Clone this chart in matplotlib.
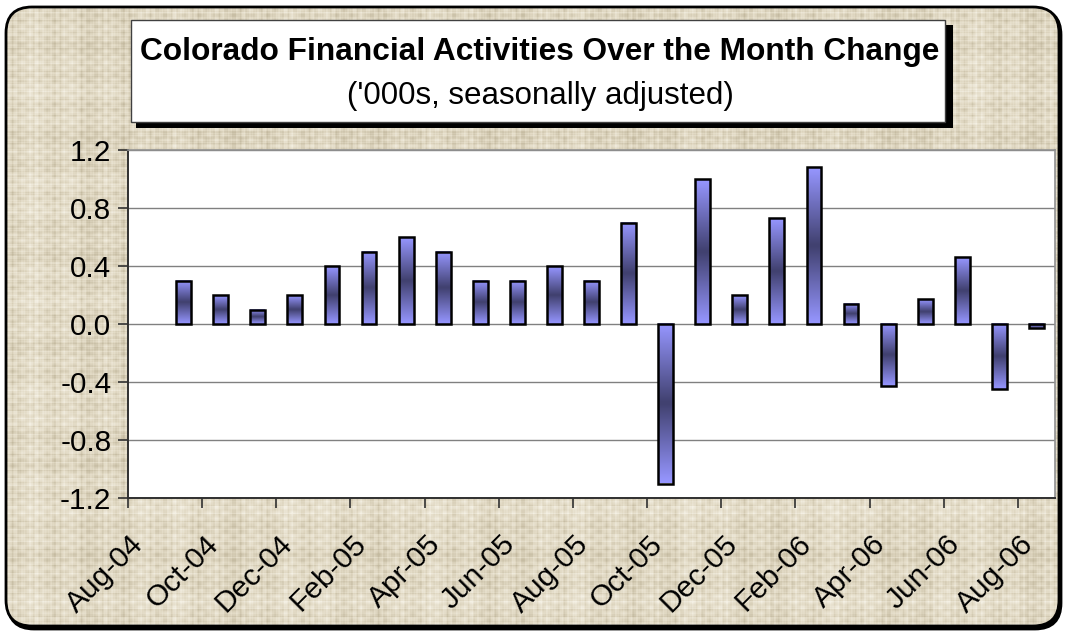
import numpy as np
import matplotlib
matplotlib.use("Agg")
import matplotlib.pyplot as plt
import matplotlib.transforms as mtrans
from matplotlib.patches import FancyBboxPatch, Rectangle

# data: monthly over-the-month change, thousands (Aug-04 has no value)
months = ["Aug-04", "Sep-04", "Oct-04", "Nov-04", "Dec-04", "Jan-05", "Feb-05",
          "Mar-05", "Apr-05", "May-05", "Jun-05", "Jul-05", "Aug-05", "Sep-05",
          "Oct-05", "Nov-05", "Dec-05", "Jan-06", "Feb-06", "Mar-06", "Apr-06",
          "May-06", "Jun-06", "Jul-06", "Aug-06"]
change = [np.nan, 0.3, 0.2, 0.1, 0.2, 0.4, 0.5, 0.6, 0.5, 0.3, 0.3, 0.4, 0.3,
          0.7, -1.1, 1.0, 0.2, 0.73, 1.08, 0.14, -0.43, 0.17, 0.46, -0.45, -0.03]
y_ticks = [-1.2, -0.8, -0.4, 0.0, 0.4, 0.8, 1.2]
y_labels = ["-1.2", "-0.8", "-0.4", "0.0", "0.4", "0.8", "1.2"]

title = "Colorado Financial Activities Over the Month Change"
subtitle = "('000s, seasonally adjusted)"

W, H = 1065, 633
plt.rcParams['font.family'] = ['Liberation Sans', 'DejaVu Sans']

fig = plt.figure(figsize=(W / 100, H / 100), dpi=100)
fig.patch.set_facecolor('white')

# background axes in pixel coordinates
bg = fig.add_axes([0, 0, 1, 1])
bg.set_xlim(0, W)
bg.set_ylim(H, 0)
bg.axis('off')

# linen-like texture (deterministic plaid of sines)
yy = np.arange(H)
xx = np.arange(W)
col = (np.sin(xx * 0.91) + 0.6 * np.sin(xx * 2.37 + 1.0) + 0.7 * np.sin(xx * 0.173 + 2.0)
       + 0.4 * np.sin(xx * 5.1) + 0.5 * np.sin(xx * 0.047))
row = (np.sin(yy * 1.13 + 0.5) + 0.6 * np.sin(yy * 2.71) + 0.7 * np.sin(yy * 0.21 + 1.3)
       + 0.4 * np.sin(yy * 4.3 + 0.7) + 0.5 * np.sin(yy * 0.061 + 2.2))
tex = 0.5 * col[None, :] / 2.5 + 0.5 * row[:, None] / 2.5 \
    + 0.25 * np.sin(xx[None, :] * 0.37) * np.sin(yy[:, None] * 0.53)
tex = np.clip(tex, -1, 1)
base = np.array([226, 218, 197]) / 255.0
light = np.array([244, 240, 228]) / 255.0
dark = np.array([196, 186, 160]) / 255.0
t = tex[..., None]
img = np.where(t > 0, base + (light - base) * t, base + (base - dark) * t)

shadow = FancyBboxPatch((8, 9), 1053, 620, boxstyle="round,pad=0,rounding_size=26",
                        fc='black', ec='black', lw=2)
bg.add_patch(shadow)
frame = FancyBboxPatch((6, 7), 1053, 619, boxstyle="round,pad=0,rounding_size=26",
                       fc='none', ec='black', lw=2)
bg.add_patch(frame)
im = bg.imshow(img, extent=(0, W, H, 0), aspect='auto', zorder=1)
im.set_clip_path(frame)
frame.set_zorder(2)

# title box with drop shadow
bg.add_patch(Rectangle((136, 25), 817, 103, fc='black', ec='none', zorder=3))
bg.add_patch(Rectangle((131, 20), 814, 102, fc='white', ec='#404040', lw=1, zorder=4))
bg.text(540, 52, title, ha='center', va='center', fontsize=22.8, fontweight='bold', zorder=5)
bg.text(540, 96, subtitle, ha='center', va='center', fontsize=22.5, zorder=5)

# main plot area
ax = fig.add_axes([128 / W, (H - 498) / H, 927 / W, 348 / H])
ax.set_facecolor('white')
x = np.arange(len(months))
vals = np.array(change, dtype=float)
ok = ~np.isnan(vals)
bars = ax.bar(x[ok], vals[ok], width=0.4, fill=False, edgecolor='black',
              linewidth=1.8, zorder=4)

# vertical gradient inside each bar: light at both ends, dark in the middle
end_c = np.array([150, 150, 255]) / 255.0
mid_c = np.array([64, 64, 110]) / 255.0
s = np.linspace(0, 1, 64)
k = 1 - np.abs(2 * s - 1)
grad = end_c[None, :] + (mid_c - end_c)[None, :] * k[:, None]
grad = grad[:, None, :]
for b in bars:
    x0 = b.get_x()
    y0, y1 = sorted([b.get_y(), b.get_y() + b.get_height()])
    ax.imshow(grad, extent=(x0, x0 + b.get_width(), y0, y1), aspect='auto',
              interpolation='bilinear', zorder=3)

ax.set_xlim(-0.5, len(months) - 0.5)
ax.set_ylim(-1.2, 1.2)
ax.set_yticks(y_ticks)
ax.set_yticklabels(y_labels)
ax.yaxis.grid(True, color='#808080', linewidth=1)
ax.set_axisbelow(True)

ax.set_xticks(np.arange(-0.5, len(months), 2))
ax.set_xticklabels([])
ax.set_xticks(x[::2], minor=True)
ax.set_xticklabels(months[::2], minor=True)
ax.tick_params(axis='x', which='major', length=7, width=1.2, color='#303030', direction='out')
ax.tick_params(axis='x', which='minor', length=0, pad=30, labelsize=21.5)
ax.tick_params(axis='y', length=7, width=1.2, color='#303030', pad=5, labelsize=21.3)
shift = mtrans.ScaledTranslation(-7 / 100, 0, fig.dpi_scale_trans)
for lab in ax.get_xticklabels(minor=True):
    lab.set_rotation(45)
    lab.set_ha('right')
    lab.set_va('center')
    lab.set_rotation_mode('anchor')
    lab.set_transform(lab.get_transform() + shift)

for side in ['top', 'right']:
    ax.spines[side].set_color('#909090')
    ax.spines[side].set_linewidth(1.2)
for side in ['left', 'bottom']:
    ax.spines[side].set_color('#303030')
    ax.spines[side].set_linewidth(1.4)

fig.savefig('out.png', dpi=100)
